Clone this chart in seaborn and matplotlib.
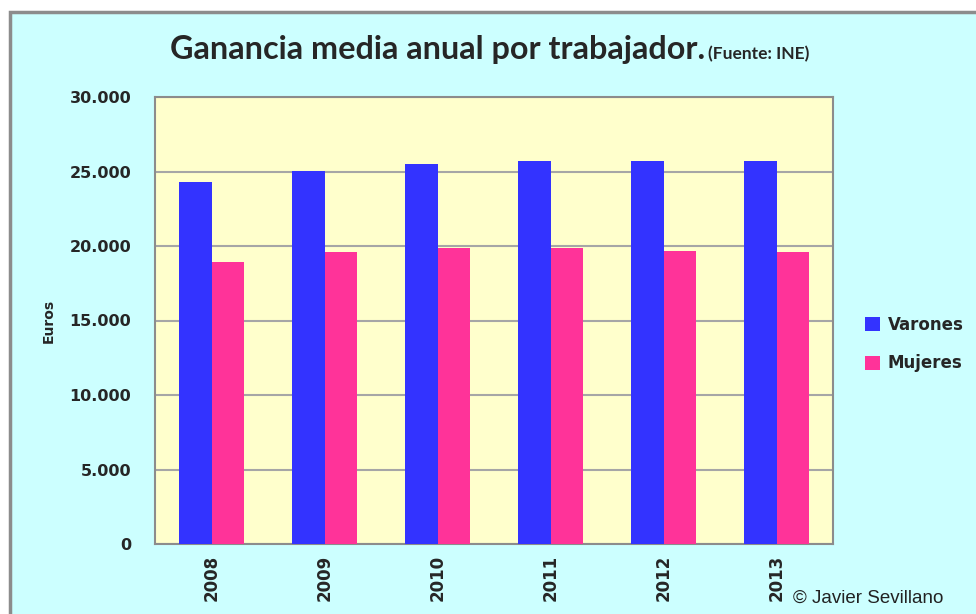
import pandas as pd
import matplotlib.pyplot as plt
import seaborn as sns
from matplotlib.patches import Rectangle
from matplotlib.ticker import FuncFormatter

# datos (euros)
years = ['2008', '2009', '2010', '2011', '2012', '2013']
varones = [24290, 25040, 25530, 25710, 25710, 25710]
mujeres = [18950, 19580, 19850, 19850, 19690, 19580]
series = ['Varones', 'Mujeres']
colors = ['#3333FF', '#FF3399']

data = pd.DataFrame({
    'year': years * 2,
    'euros': varones + mujeres,
    'sexo': [series[0]] * len(years) + [series[1]] * len(years),
})

sns.set_style('white')
plt.rcParams['font.family'] = ['DejaVu Sans']

fig = plt.figure(figsize=(9.76, 6.14), dpi=100)
fig.patch.set_facecolor('white')
# fondo cian del grafico con borde gris
bg = Rectangle((10 / 976, -0.05), 1.0, 1.05 - 12 / 614,
               transform=fig.transFigure, facecolor='#CCFFFF',
               edgecolor='#8C8C8C', linewidth=2.5, zorder=-10)
fig.patches.append(bg)

ax = fig.add_axes([155 / 976, 70 / 614, 678 / 976, 447 / 614])
ax.set_facecolor('#FFFFCC')

sns.barplot(data=data, x='year', y='euros', hue='sexo', palette=colors,
            width=0.58, gap=0, saturation=1, linewidth=0, ax=ax, zorder=3)

ax.set_ylim(0, 30000)
ax.set_yticks(range(0, 30001, 5000))
ax.yaxis.set_major_formatter(FuncFormatter(lambda v, p: f'{int(v):,}'.replace(',', '.')))
ax.grid(axis='y', color='#A6A6A6', linewidth=1.5, zorder=1)
ax.set_axisbelow(True)
for s in ax.spines.values():
    s.set_color('#8C8C8C')
    s.set_linewidth(1.5)

ax.tick_params(axis='y', length=0, pad=17, labelsize=11.5)
ax.tick_params(axis='x', length=0, pad=8, labelsize=12, rotation=90)
for lab in ax.get_yticklabels() + ax.get_xticklabels():
    lab.set_fontweight('bold')

ax.set_xlabel('')
ax.set_ylabel('Euros', fontsize=10, fontweight='bold', labelpad=10)

ax.legend(loc='center left', bbox_to_anchor=(850 / 976, 1 - 344 / 614),
          bbox_transform=fig.transFigure, frameon=False,
          prop={'size': 12, 'weight': 'bold'}, handlelength=0.9,
          handleheight=0.9, handletextpad=0.45, labelspacing=1.25)

fig.text(705 / 976, 1 - 50 / 614, 'Ganancia media anual por trabajador.',
         ha='right', va='center', fontsize=23.3, fontweight='bold', family='Lato')
fig.text(708 / 976, 1 - 54 / 614, '(Fuente: INE)', ha='left', va='center',
         fontsize=12.5, fontweight='bold', family='Lato')
fig.text(793 / 976, 1 - 598 / 614, '© Javier Sevillano', ha='left', va='center',
         fontsize=13.5, family='Liberation Sans', color='#222222')

fig.savefig('out.png', dpi=100)
